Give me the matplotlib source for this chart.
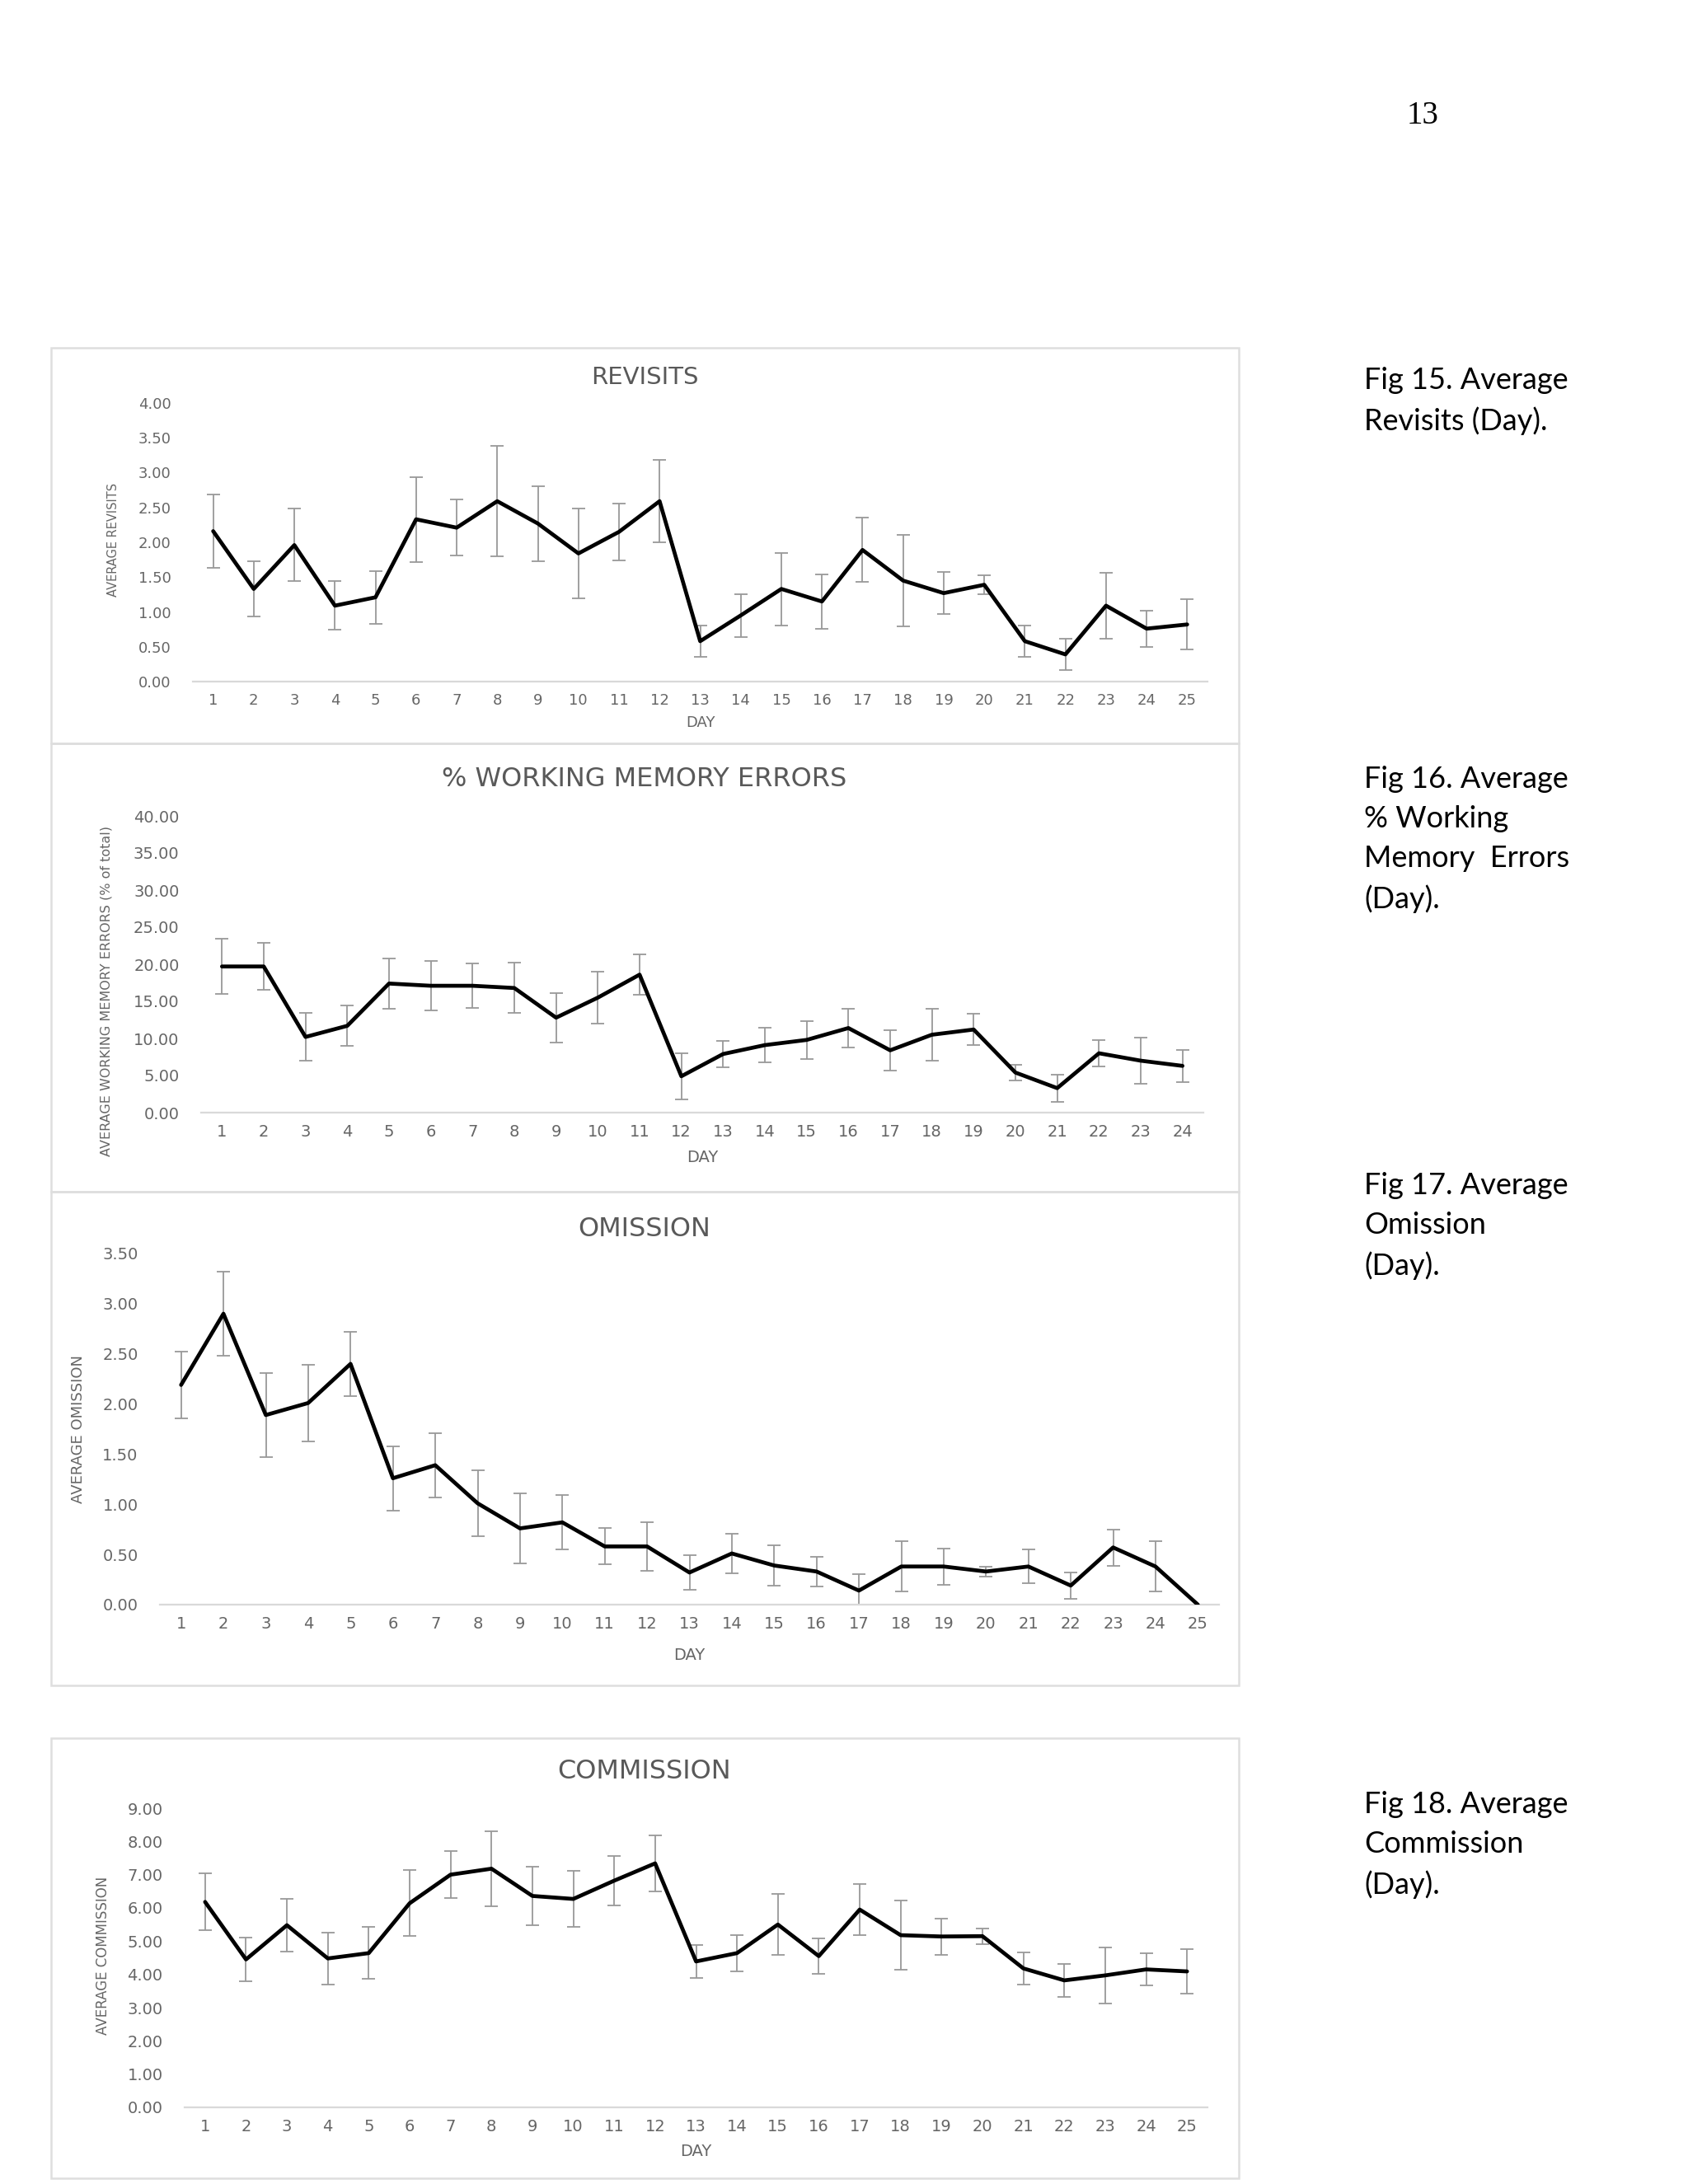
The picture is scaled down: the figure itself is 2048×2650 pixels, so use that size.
import numpy as np
import matplotlib.pyplot as plt
from matplotlib.patches import Rectangle

# page size in pixels (dpi 100)
W, H = 2048, 2650

# ========================================================================================================================================
# values
days_25 = list(range(1, 26))
days_24 = list(range(1, 25))

revisits = [2.16, 1.33, 1.96, 1.09, 1.21, 2.33, 2.21, 2.59, 2.27, 1.84, 2.15, 2.59, 0.58,
            0.95, 1.33, 1.15, 1.89, 1.45, 1.27, 1.39, 0.58, 0.39, 1.09, 0.76, 0.82]
revisits_err = [0.53, 0.40, 0.52, 0.35, 0.38, 0.61, 0.40, 0.79, 0.54, 0.64, 0.41, 0.59, 0.23,
                0.31, 0.52, 0.39, 0.46, 0.66, 0.30, 0.14, 0.22, 0.22, 0.47, 0.26, 0.36]

wm_errors = [19.7, 19.7, 10.2, 11.7, 17.4, 17.1, 17.1, 16.8, 12.8, 15.5, 18.6, 4.9,
             7.9, 9.1, 9.8, 11.4, 8.4, 10.5, 11.2, 5.4, 3.3, 8.0, 7.0, 6.3]
wm_errors_err = [3.75, 3.15, 3.2, 2.75, 3.35, 3.3, 3.0, 3.4, 3.35, 3.45, 2.7, 3.1,
                 1.8, 2.3, 2.55, 2.65, 2.75, 3.45, 2.1, 1.1, 1.85, 1.75, 3.15, 2.2]

omission = [2.19, 2.90, 1.89, 2.01, 2.40, 1.26, 1.39, 1.01, 0.76, 0.82, 0.58, 0.58, 0.32,
            0.51, 0.39, 0.33, 0.14, 0.38, 0.38, 0.33, 0.38, 0.19, 0.57, 0.38, 0.00]
omission_err = [0.33, 0.42, 0.42, 0.38, 0.32, 0.32, 0.32, 0.33, 0.35, 0.27, 0.18, 0.24, 0.17,
                0.20, 0.20, 0.15, 0.16, 0.25, 0.18, 0.05, 0.17, 0.13, 0.18, 0.25, 0.00]

commission = [6.18, 4.45, 5.48, 4.48, 4.64, 6.14, 7.00, 7.18, 6.36, 6.27, 6.82, 7.34, 4.39,
              4.64, 5.50, 4.55, 5.95, 5.18, 5.14, 5.15, 4.18, 3.82, 3.97, 4.15, 4.09]
commission_err = [0.86, 0.66, 0.80, 0.78, 0.78, 0.99, 0.70, 1.12, 0.88, 0.84, 0.74, 0.84, 0.49,
                  0.54, 0.91, 0.53, 0.78, 1.05, 0.55, 0.23, 0.49, 0.50, 0.85, 0.49, 0.68]

titles = ["REVISITS", "% WORKING MEMORY ERRORS", "OMISSION", "COMMISSION"]
ylabels = ["AVERAGE REVISITS", "AVERAGE WORKING MEMORY ERRORS (% of total)",
           "AVERAGE OMISSION", "AVERAGE COMMISSION"]
captions = ["Fig 15. Average\nRevisits (Day).",
            "Fig 16. Average\n% Working\nMemory  Errors\n(Day).",
            "Fig 17. Average\nOmission\n(Day).",
            "Fig 18. Average\nCommission\n(Day)."]
# ========================================================================================================================================

TXT = "#666666"


def px_rect(x0, y0, x1, y1):
    return [x0 / W, 1 - y1 / H, (x1 - x0) / W, (y1 - y0) / H]


fig = plt.figure(figsize=(W / 100, H / 100), dpi=100)
fig.patch.set_facecolor("white")

# layout of each chart on the page (pixels): frame, plot area, text rows
panels = [
    dict(days=days_25, y=revisits, err=revisits_err, ymax=4.0, step=0.5,
         frame=(62, 422, 1503, 902), plot=(234, 489, 1465, 827),
         title_y=458, ylab_x=138, ylab_y=655, day_y=877,
         fs_tick=13, fs_title=21, fs_ylab=10.5),
    dict(days=days_24, y=wm_errors, err=wm_errors_err, ymax=40.0, step=5.0,
         frame=(62, 902, 1503, 1446), plot=(244, 990, 1460, 1350),
         title_y=945, ylab_x=129, ylab_y=1203, day_y=1405,
         fs_tick=14, fs_title=23, fs_ylab=11.5),
    dict(days=days_25, y=omission, err=omission_err, ymax=3.5, step=0.5,
         frame=(62, 1446, 1503, 2045), plot=(194, 1521, 1479, 1947),
         title_y=1491, ylab_x=95, ylab_y=1734, day_y=2008,
         fs_tick=14, fs_title=23, fs_ylab=13),
    dict(days=days_25, y=commission, err=commission_err, ymax=9.0, step=1.0,
         frame=(62, 2109, 1503, 2643), plot=(224, 2194, 1465, 2557),
         title_y=2149, ylab_x=125, ylab_y=2373, day_y=2611,
         fs_tick=14, fs_title=23, fs_ylab=12),
]

for p, title, ylab in zip(panels, titles, ylabels):
    x0, y0, x1, y1 = p["frame"]
    fig.patches.append(Rectangle((x0 / W, 1 - y1 / H), (x1 - x0) / W, (y1 - y0) / H,
                                 transform=fig.transFigure, fill=False,
                                 edgecolor="#dedede", linewidth=1.8))

    ax = fig.add_axes(px_rect(*p["plot"]))
    ax.patch.set_alpha(0)
    ax.errorbar(p["days"], p["y"], yerr=p["err"], fmt="none", ecolor="#999999",
                elinewidth=1.3, capsize=6, capthick=1.3, zorder=2)
    ax.plot(p["days"], p["y"], color="black", linewidth=3.4,
            solid_joinstyle="round", solid_capstyle="round", zorder=3)

    n = len(p["days"])
    ax.set_xlim(0.5, n + 0.5)
    ax.set_ylim(0, p["ymax"])
    yt = np.arange(0, p["ymax"] + p["step"] / 2, p["step"])
    ax.set_yticks(yt)
    ax.set_yticklabels([f"{v:.2f}" for v in yt])
    ax.set_xticks(p["days"])
    ax.set_xticklabels([str(d) for d in p["days"]])

    for s in ["top", "left", "right"]:
        ax.spines[s].set_visible(False)
    ax.spines["bottom"].set_color("#d9d9d9")
    ax.spines["bottom"].set_linewidth(1.6)
    ax.tick_params(axis="both", length=0, colors=TXT, labelsize=p["fs_tick"])
    ax.tick_params(axis="y", pad=19)
    ax.tick_params(axis="x", pad=10)

    xc = (p["plot"][0] + p["plot"][2]) / 2
    fig.text(782 / W, 1 - p["title_y"] / H, title, ha="center", va="center",
             fontsize=p["fs_title"], color="#595959")
    fig.text(p["ylab_x"] / W, 1 - p["ylab_y"] / H, ylab, rotation=90,
             ha="center", va="center", fontsize=p["fs_ylab"], color=TXT)
    fig.text(xc / W, 1 - p["day_y"] / H, "DAY", ha="center", va="center",
             fontsize=p["fs_tick"], color=TXT)

# captions on the right side of the page
cap_tops = [467, 951, 1444, 2195]
for cap, yt in zip(captions, cap_tops):
    fig.text(1655 / W, 1 - (yt - 22) / H, cap, ha="left", va="top",
             fontsize=26, family="Lato", color="black", linespacing=1.55)

# page number
fig.text(1726 / W, 1 - 140 / H, "13", ha="center", va="center",
         fontsize=28, family="Liberation Serif", color="black")

fig.savefig("out.png", dpi=100, facecolor="white")
